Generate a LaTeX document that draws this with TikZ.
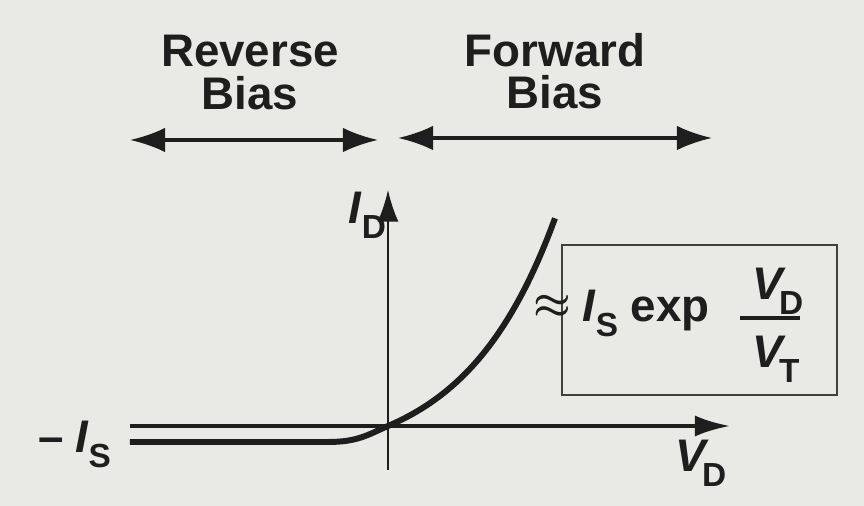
\documentclass[tikz,border=0pt]{standalone}
\usepackage{amsmath}
\usepackage{fontspec}
\setmainfont{Liberation Sans}
\usetikzlibrary{arrows.meta}
\definecolor{ink}{RGB}{30,30,30}
\definecolor{paper}{RGB}{233,233,229}
\newcommand{\ivar}[3][0em]{\textit{#2}\kern#1\raisebox{-0.6ex}{\fontsize{9.5}{10}\selectfont #3}}

\begin{document}
\begin{tikzpicture}[font=\fontsize{13}{12}\selectfont\bfseries]

\fill[paper] (-3.88,-0.80) rectangle (4.76,4.26);
\useasboundingbox (-3.88,-0.80) rectangle (4.76,4.26);

\coordinate (revL) at (-2.58,2.86);
\coordinate (revR) at (-0.10,2.86);
\coordinate (fwdL) at (0.10,2.88);
\coordinate (fwdR) at (3.24,2.88);
\draw[ink, line width=0.9pt, {Latex[length=10pt,width=7pt]}-{Latex[length=10pt,width=7pt]}] (revL) -- (revR);
\draw[ink, line width=0.9pt, {Latex[length=10pt,width=7pt]}-{Latex[length=10pt,width=7pt]}] (fwdL) -- (fwdR);
\draw[ink] (-1.38,4.03) node[anchor=north, align=center] (rev) {Reverse\\Bias};
\draw[ink] (1.67,4.05) node[anchor=north, align=center] (fwd) {Forward\\Bias};

\draw[ink, line width=0.6pt, -{Latex[length=9pt,width=6pt]}] (0,-0.44) -- (0,2.36);
\draw[ink, line width=1.1pt, -{Latex[length=10pt,width=6pt]}] (-2.58,0) -- (3.42,0);
\draw[ink, line width=1.7pt] (-2.58,-0.16) -- (-0.6,-0.16) .. controls (-0.3,-0.16) and (-0.2,-0.086) .. (0,0) -- plot[domain=0:1.67,samples=40] (\x,{0.385*(exp(\x/0.9)-1)});

\draw[ink!85, line width=0.7pt] (1.74,0.31) rectangle (4.49,1.81);
\draw[ink] (1.64,1.08) node[anchor=base] (apx) {$\boldsymbol{\approx}$};
\draw[ink] (1.82,1.04) node[anchor=base west] (isexp) {\ivar{I}{S} exp};
\draw[ink, line width=0.9pt] (3.52,1.08) -- (4.12,1.08);
\draw[ink] (3.52,1.26) node[anchor=base west] (vd) {\ivar[-0.15em]{V}{D}};
\draw[ink] (3.52,0.58) node[anchor=base west] (vt) {\ivar[-0.15em]{V}{T}};

\draw[ink] (-0.52,2.02) node[anchor=base west] (id) {\ivar{I}{D}};
\draw[ink] (-3.62,-0.27) node[anchor=base west] (is) {--\hspace{0.25em}\ivar{I}{S}};
\draw[ink] (2.75,-0.46) node[anchor=base west] (vdax) {\ivar[-0.15em]{V}{D}};

\end{tikzpicture}
\end{document}
